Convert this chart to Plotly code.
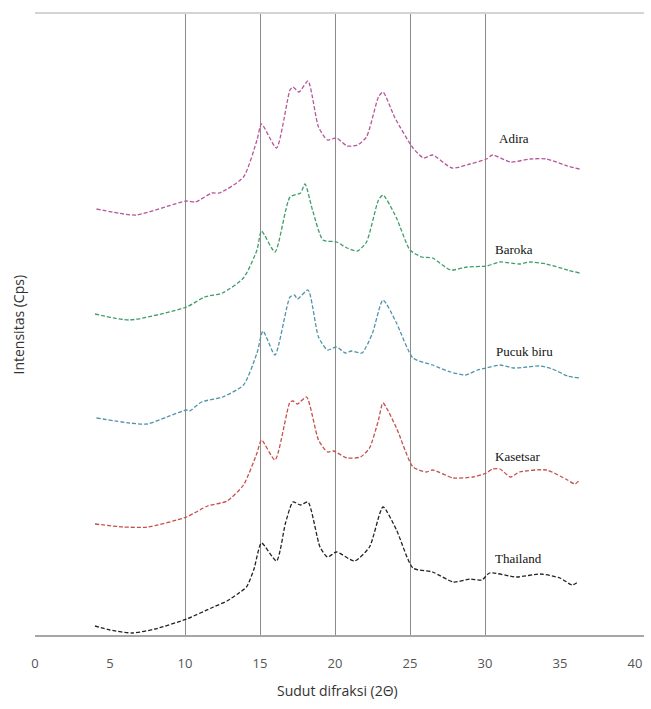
import plotly.graph_objects as go

# ---- data (2-theta in degrees, intensity in arbitrary stacked units) ----
adira_x = [4.1, 5.9, 6.8, 10.1, 10.7, 11.8, 12.3, 13.9, 14.8, 15.1, 16.1, 17.0, 17.2, 17.6, 18.2, 18.9, 19.5, 20.1, 20.8, 21.5, 22.1, 22.9, 23.2, 24.0, 25.2, 25.9, 26.5, 27.8, 29.0, 30.1, 30.5, 31.7, 33.0, 34.1, 35.5, 36.3]
adira_y = [426, 421, 420, 434, 433, 442, 442, 458, 495, 511, 487, 545, 548, 543, 554, 508, 495, 497, 489, 490, 498, 538, 543, 517, 487, 477, 480, 467, 471, 476, 480, 473, 476, 476, 469, 466]

baroka_x = [4.0, 6.3, 10.1, 11.3, 12.5, 13.9, 14.8, 15.1, 16.0, 17.0, 17.7, 18.0, 18.5, 19.2, 20.1, 20.8, 21.5, 22.1, 22.9, 23.2, 24.1, 25.0, 25.8, 26.5, 27.7, 28.8, 30.1, 31.0, 32.3, 33.0, 34.1, 35.5, 36.3]
baroka_y = [321, 315, 328, 338, 342, 357, 385, 404, 383, 438, 442, 451, 425, 395, 393, 387, 384, 393, 435, 440, 417, 385, 378, 377, 365, 368, 369, 373, 371, 373, 371, 365, 362]

pucuk_x = [4.1, 6.3, 7.5, 8.8, 10.1, 10.3, 11.1, 12.5, 13.9, 14.8, 15.2, 16.0, 17.0, 17.3, 17.5, 18.2, 18.9, 19.5, 20.1, 20.7, 21.1, 21.8, 22.5, 23.2, 24.1, 25.2, 26.5, 27.7, 28.7, 29.5, 30.1, 31.0, 31.9, 32.8, 33.7, 34.5, 35.5, 36.3]
pucuk_y = [217, 212, 211, 218, 225, 224, 233, 238, 250, 282, 304, 280, 338, 340, 336, 345, 298, 285, 288, 282, 284, 282, 302, 335, 312, 277, 270, 263, 260, 265, 267, 270, 267, 268, 269, 266, 259, 257]

kasetsar_x = [4.0, 5.9, 7.5, 10.1, 11.5, 12.8, 13.9, 14.8, 15.1, 16.0, 17.0, 17.2, 17.5, 18.1, 18.9, 19.5, 19.9, 20.8, 21.7, 22.3, 22.9, 23.2, 24.1, 25.2, 26.1, 26.5, 27.9, 29.2, 30.1, 30.5, 31.0, 31.7, 32.3, 34.1, 35.5, 36.0, 36.3]
kasetsar_y = [111, 108, 108, 118, 129, 134, 150, 182, 195, 175, 233, 234, 231, 238, 195, 183, 184, 177, 178, 187, 215, 232, 207, 168, 163, 165, 157, 158, 162, 166, 166, 158, 163, 165, 155, 151, 155]

thailand_x = [4.0, 5.0, 6.5, 8.0, 10.1, 11.9, 12.8, 13.5, 14.1, 14.6, 15.1, 16.1, 16.7, 17.2, 17.7, 18.2, 19.0, 19.5, 20.1, 21.3, 22.3, 23.2, 24.1, 25.2, 26.5, 27.9, 29.0, 29.8, 30.3, 32.1, 33.7, 35.0, 35.8, 36.2]
thailand_y = [9, 5, 2, 6, 16, 28, 34, 41, 48, 66, 92, 74, 112, 133, 130, 133, 88, 78, 83, 74, 88, 128, 105, 67, 63, 53, 56, 55, 62, 58, 61, 57, 50, 53]

series_names = ["Adira", "Baroka", "Pucuk biru", "Kasetsar", "Thailand"]
series_colors = ["#b5569a", "#3f9d6c", "#4f93a8", "#c4504c", "#222222"]
label_x = [30.8, 30.5, 30.6, 30.5, 30.5]
label_y = [497, 386, 284, 179, 77]

x_ticks = [0, 5, 10, 15, 20, 25, 30, 35, 40]
grid_ticks = [10, 15, 20, 25, 30]

fig = go.Figure()
xs = [adira_x, baroka_x, pucuk_x, kasetsar_x, thailand_x]
ys = [adira_y, baroka_y, pucuk_y, kasetsar_y, thailand_y]
for name, color, x, y in zip(series_names, series_colors, xs, ys):
    fig.add_trace(go.Scatter(
        x=x, y=y, mode="lines", name=name,
        line=dict(color=color, width=1.3, dash="4px,2px", shape="spline", smoothing=0.6),
        showlegend=False, hoverinfo="skip"))

# invisible trace on overlay axis to show gridlines at selected positions
fig.add_trace(go.Scatter(x=[0, 40], y=[None, None], xaxis="x2", showlegend=False, hoverinfo="skip"))

for name, lx, ly in zip(series_names, label_x, label_y):
    fig.add_annotation(x=lx, y=ly, text=name, showarrow=False, xanchor="left", yanchor="middle",
                       font=dict(family="Liberation Serif", size=13, color="#111111"))

fig.add_annotation(xref="paper", yref="paper", x=0.5, y=0, yshift=-55, xshift=-2,
                   text="Sudut difraksi (2Θ)", showarrow=False, xanchor="center", yanchor="middle",
                   font=dict(family="Open Sans", size=14, color="#333333"))
fig.add_annotation(xref="paper", yref="paper", x=0, y=0.5, xshift=-17,
                   text="Intensitas (Cps)", showarrow=False, textangle=-90,
                   xanchor="center", yanchor="middle",
                   font=dict(family="Open Sans", size=14, color="#333333"))

xr = [0, 40.6]
fig.update_layout(
    width=651, height=709,
    margin=dict(l=35, r=7, t=14, b=74, autoexpand=False),
    paper_bgcolor="white", plot_bgcolor="white",
    xaxis=dict(range=xr, tickvals=x_ticks, ticktext=[str(t) for t in x_ticks],
               showgrid=False, zeroline=False, showline=True, linecolor="#a6a6a6", linewidth=1.5,
               ticks="", ticklabelstandoff=16, automargin=False,
               tickfont=dict(family="Open Sans", size=13, color="#555555")),
    xaxis2=dict(range=xr, overlaying="x", side="top", tickvals=grid_ticks, showticklabels=False,
                showgrid=True, gridcolor="#8c8c8c", gridwidth=1, zeroline=False, automargin=False,
                showline=True, linecolor="#d4d4d4", linewidth=1.5, ticks=""),
    yaxis=dict(range=[0, 621], showgrid=False, zeroline=False, showline=False,
               showticklabels=False, ticks="", automargin=False),
)

fig.write_html("out.html", config={"displayModeBar": False},
               post_script="document.body.style.margin='0';document.body.style.padding='0';document.body.style.overflow='hidden';")
